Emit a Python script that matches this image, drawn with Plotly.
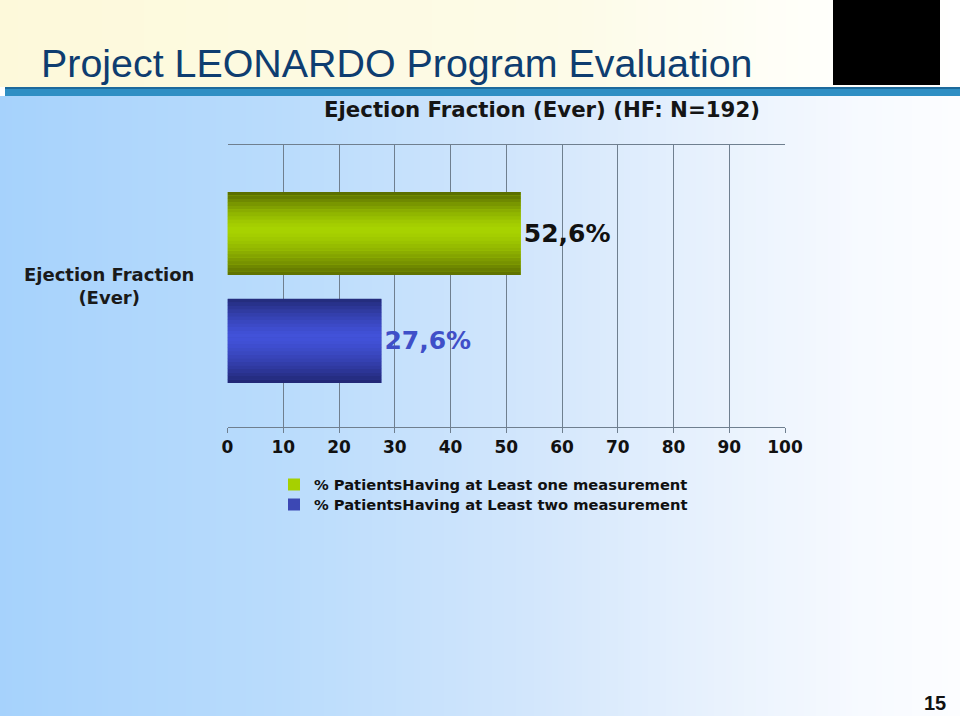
import plotly.graph_objects as go

# ---------------- data ----------------
categories = ["Ejection Fraction (Ever)"]
series_names = ["% PatientsHaving at Least one measurement",
                "% PatientsHaving at Least two measurement"]
at_least_one = [52.6]
at_least_two = [27.6]
x_tick_vals = [0, 10, 20, 30, 40, 50, 60, 70, 80, 90, 100]

title_text = "Project LEONARDO Program Evaluation"
subtitle_text = "Ejection Fraction (Ever) (HF: N=192)"
page_number = "15"

W, H = 960, 716


def px_x(p):
    return p / W


def px_y(p):
    return 1 - p / H


def lerp(c1, c2, t):
    return tuple(int(round(a + (b - a) * t)) for a, b in zip(c1, c2))


def rgb(c):
    return "rgb(%d,%d,%d)" % c


def grad(stops, t):
    for (t0, c0), (t1, c1) in zip(stops, stops[1:]):
        if t <= t1:
            return lerp(c0, c1, (t - t0) / (t1 - t0) if t1 > t0 else 0)
    return stops[-1][1]


shapes = []
# ---- slide body background (horizontal gradient) ----
body_stops = [(0.0, (166, 210, 252)), (0.3, (186, 220, 252)), (0.55, (210, 230, 252)),
              (0.75, (233, 242, 253)), (0.9, (247, 250, 255)), (1.0, (252, 253, 255))]
n = 160
for i in range(n):
    t = (i + 0.5) / n
    shapes.append(dict(type="rect", xref="paper", yref="paper", layer="below",
                       x0=i / n, x1=(i + 1) / n + 0.001, y0=0, y1=px_y(96),
                       fillcolor=rgb(grad(body_stops, t)), line=dict(width=0)))
# ---- header cream gradient ----
head_stops = [(0.0, (253, 249, 218)), (0.6, (253, 251, 232)), (0.85, (255, 255, 250)), (1.0, (255, 255, 255))]
for i in range(n):
    t = (i + 0.5) / n
    shapes.append(dict(type="rect", xref="paper", yref="paper", layer="below",
                       x0=i / n, x1=(i + 1) / n + 0.001, y0=px_y(87), y1=1,
                       fillcolor=rgb(grad(head_stops, t)), line=dict(width=0)))
# ---- header separator bar ----
shapes.append(dict(type="rect", xref="paper", yref="paper", layer="below",
                   x0=px_x(5), x1=1, y0=px_y(96), y1=px_y(87),
                   fillcolor="#2f8fc4", line=dict(width=0)))
shapes.append(dict(type="rect", xref="paper", yref="paper", layer="below",
                   x0=px_x(5), x1=1, y0=px_y(89), y1=px_y(87),
                   fillcolor="#1d6a9c", line=dict(width=0)))
# ---- black logo box ----
shapes.append(dict(type="rect", xref="paper", yref="paper", layer="above",
                   x0=px_x(833), x1=px_x(940), y0=px_y(85), y1=1,
                   fillcolor="black", line=dict(width=0)))

fig = go.Figure()

# bar geometry (axis units on the category axis)
green_off, green_w = 0.039, 0.294
blue_off, blue_w = -0.344, 0.298

green_dark_top, green_bright, green_dark_bot = (86, 104, 0), (168, 212, 0), (92, 110, 0)
blue_dark_top, blue_bright, blue_dark_bot = (34, 42, 120), (66, 82, 218), (32, 38, 114)


def add_series(values, name, off, w, c_top, c_mid, c_bot, text_color, legend_id, legend_color):
    # main bar carrying legend entry and value label
    fig.add_trace(go.Bar(
        y=categories, x=values, orientation="h", name=name, legend=legend_id,
        width=w, offset=off, marker=dict(color=legend_color, line=dict(width=0)),
        texttemplate="%{x:.1f}%", textposition="outside", cliponaxis=False,
        textfont=dict(family="DejaVu Sans", size=25, color=text_color, weight="bold"),
        hoverinfo="skip"))
    # gradient strips
    m = 24
    for k in range(m):
        t = (k + 0.5) / m  # 0 bottom, 1 top
        if t >= 0.55:
            s = (t - 0.55) / 0.45
            c = lerp(c_mid, c_top, s ** 1.4)
        else:
            s = (0.55 - t) / 0.55
            c = lerp(c_mid, c_bot, s ** 1.4)
        fig.add_trace(go.Bar(
            y=categories, x=values, orientation="h", showlegend=False,
            width=w / m * 1.05, offset=off + w * k / m,
            marker=dict(color=rgb(c), line=dict(width=0)), hoverinfo="skip"))


add_series(at_least_one, series_names[0], green_off, green_w,
           green_dark_top, green_bright, green_dark_bot, "#111111", "legend", "#a6d000")
add_series(at_least_two, series_names[1], blue_off, blue_w,
           blue_dark_top, blue_bright, blue_dark_bot, "#3f4fc8", "legend2", "#3c48b4")

annotations = [
    dict(text=title_text, x=px_x(39), y=px_y(63), xref="paper", yref="paper",
         xanchor="left", yanchor="middle", showarrow=False,
         font=dict(family="Liberation Sans", size=39.4, color="#0e3d70")),
    dict(text=subtitle_text, x=px_x(542), y=px_y(109), xref="paper", yref="paper",
         xanchor="center", yanchor="middle", showarrow=False,
         font=dict(family="DejaVu Sans", size=21.3, color="#151515", weight="bold")),
    dict(text="Ejection Fraction<br>(Ever)", x=px_x(109), y=px_y(286), xref="paper", yref="paper",
         xanchor="center", yanchor="middle", showarrow=False, align="center",
         font=dict(family="DejaVu Sans", size=18, color="#1a1a1a", weight="bold")),
    dict(text=page_number, x=px_x(948), y=px_y(703), xref="paper", yref="paper",
         xanchor="right", yanchor="middle", showarrow=False,
         font=dict(family="Liberation Sans", size=20, color="#111111", weight="bold")),
]

legend_font = dict(family="DejaVu Sans", size=14.7, color="#111111", weight="bold")

fig.update_layout(
    width=W, height=H,
    margin=dict(l=0, r=0, t=0, b=0),
    paper_bgcolor="white", plot_bgcolor="rgba(0,0,0,0)",
    barmode="overlay",
    separators=",.",
    shapes=shapes,
    annotations=annotations,
    showlegend=True,
    legend=dict(x=px_x(274), y=px_y(485), xanchor="left", yanchor="middle",
                bgcolor="rgba(0,0,0,0)", borderwidth=0, font=legend_font),
    legend2=dict(x=px_x(274), y=px_y(505), xanchor="left", yanchor="middle",
                 bgcolor="rgba(0,0,0,0)", borderwidth=0, font=legend_font),
    xaxis=dict(domain=[px_x(227.5), px_x(785)], range=[0, 100], tickvals=x_tick_vals,
               showgrid=True, gridcolor="#6f7f8f", gridwidth=1,
               showline=True, linecolor="#6f7f8f", linewidth=1, mirror=True,
               ticks="outside", ticklen=5, tickcolor="#6f7f8f",
               tickfont=dict(family="DejaVu Sans", size=17, color="#111111", weight="bold"),
               zeroline=False, automargin=False, fixedrange=True),
    yaxis=dict(domain=[px_y(427), px_y(145)], type="category", range=[-0.5, 0.5],
               showticklabels=False, showgrid=False, zeroline=False, showline=False,
               automargin=False, fixedrange=True),
)

fig.write_html("out.html", config={"displayModeBar": False},
               post_script="document.body.style.margin='0';document.body.style.overflow='hidden';")
